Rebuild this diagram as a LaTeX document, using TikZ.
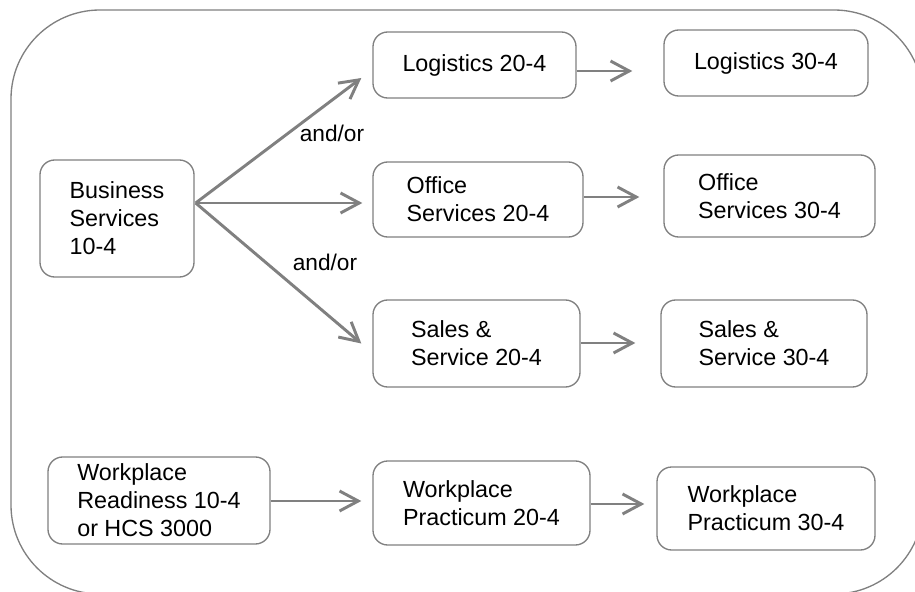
\documentclass[tikz,border=0pt]{standalone}
\usepackage{fontspec}
\setmainfont{Liberation Sans}
\usetikzlibrary{arrows.meta, calc, positioning}
\definecolor{framegray}{RGB}{128,128,128}
\definecolor{arrowgray}{RGB}{128,128,128}

\begin{document}
\begin{tikzpicture}[x=0.75pt, y=-0.75pt, >={Straight Barb[length=14pt,width=15pt]},
    course/.style={draw=framegray, line width=1pt, rounded corners=11pt, align=left, inner sep=0pt, font=\fontsize{17.5}{21}\selectfont},
    flow/.style={->, draw=arrowgray, line width=2.2pt},
    note/.style={inner sep=0pt, font=\fontsize{17}{21}\selectfont}]
    \useasboundingbox (0,0) rectangle (915,592);

    % Outer frame
    \begin{scope}
        \clip (0,0) rectangle (915,592);
        \draw[framegray, line width=1pt, rounded corners=66.75pt] (11,10) rectangle (923,594);
    \end{scope}

    % Business Services
    \node[course, minimum width=115.5pt, minimum height=87.75pt] (bs) at (117,218.5) {Business\\Services\\10-4};

    % 20-4 courses
    \node[course, minimum width=152.25pt, minimum height=49.5pt] (log2) at (474.5,65) {Logistics 20-4};
    \node[course, minimum width=157.5pt, minimum height=56.25pt] (off2) at (478,199.5) {Office\\Services 20-4};
    \node[course, minimum width=155.25pt, minimum height=65.25pt] (sal2) at (476.5,343.5) {Sales \&\\Service 20-4};

    % 30-4 courses
    \node[course, minimum width=153pt, minimum height=49.5pt] (log3) at (766,63) {Logistics 30-4};
    \node[course, minimum width=158.25pt, minimum height=61.5pt] (off3) at (769.5,196) {Office\\Services 30-4};
    \node[course, minimum width=154.5pt, minimum height=65.25pt] (sal3) at (764,343.5) {Sales \&\\Service 30-4};

    % Workplace path
    \node[course, minimum width=166.5pt, minimum height=65.25pt] (rd) at (159,500.5) {Workplace\\Readiness 10-4\\or HCS 3000};
    \node[course, minimum width=162.75pt, minimum height=63pt] (pr2) at (481.5,503) {Workplace\\Practicum 20-4};
    \node[course, minimum width=163.5pt, minimum height=62.25pt] (pr3) at (766,508.5) {Workplace\\Practicum 30-4};

    % Fan out from Business Services
    \draw[flow] ($(bs.east)+(1,-15.5)$) -- ($(log2.west)+(-11,13)$);
    \draw[flow] ($(bs.east)+(1,-15.5)$) -- ($(off2.west)+(-10,3.5)$);
    \draw[flow] ($(bs.east)+(1,-15.5)$) -- ($(sal2.west)+(-11,0)$);
    \node[note] (ao1) at (332,133) {and/or};
    \node[note] (ao2) at (325,262) {and/or};

    % 20-4 to 30-4
    \draw[flow] ($(log2.east)+(0,6)$) -- ($(log3.west)+(-31,8)$);
    \draw[flow] ($(off2.east)+(0,-2.5)$) -- ($(off3.west)+(-24,1)$);
    \draw[flow] ($(sal2.east)+(0,-0.5)$) -- ($(sal3.west)+(-25,-0.5)$);
    \draw[flow] ($(rd.east)+(0,0.5)$) -- ($(pr2.west)+(-11,-2)$);
    \draw[flow] ($(pr2.east)+(0,1)$) -- ($(pr3.west)+(-12,-4.5)$);
\end{tikzpicture}
\end{document}
